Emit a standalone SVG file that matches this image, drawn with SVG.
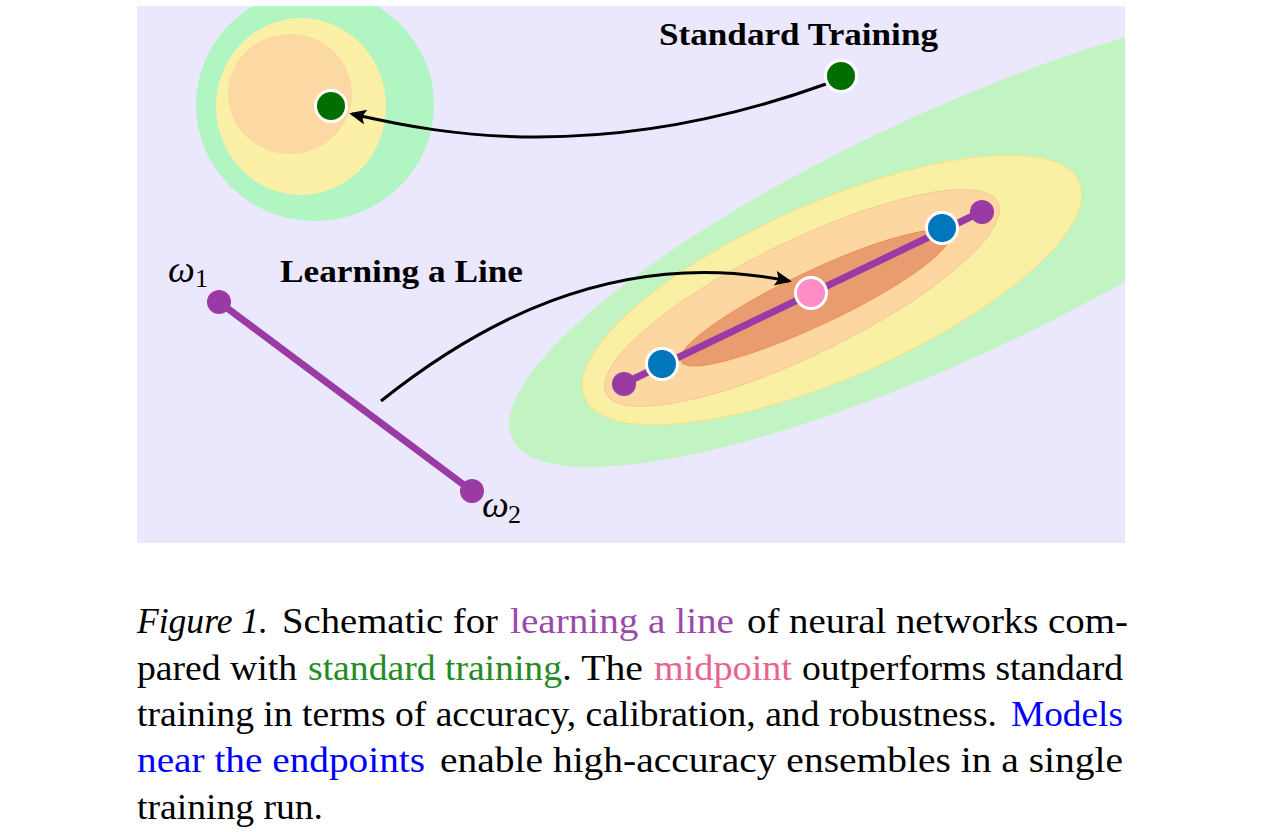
<svg xmlns="http://www.w3.org/2000/svg" width="1278" height="832" viewBox="0 0 1278 832">
  <style>
    .lbl { font-family: "Liberation Serif", "Times New Roman", serif; font-weight: bold; font-size: 31px; fill: #000; }
    .math { font-family: "Liberation Serif", "Times New Roman", serif; font-style: italic; font-size: 38px; fill: #000; }
    .sub { font-family: "Liberation Serif", "Times New Roman", serif; font-size: 26px; fill: #000; }
    .cap { font-family: "Liberation Serif", "Times New Roman", serif; font-size: 35px; fill: #000; }
    .it { font-style: italic; }
    .c-purple { fill: #9a4aa8; }
    .c-green { fill: #228b22; }
    .c-pink { fill: #e8648a; }
    .c-blue { fill: #0000ff; }
    .conn { fill: none; stroke: #000; stroke-width: 3; }
    .dot { stroke: #fff; stroke-width: 3; }
    .end { fill: #9a3aa5; }
  </style>
  <defs>
    <clipPath id="panel">
      <rect x="137" y="6" width="988" height="537"/>
    </clipPath>
    <marker id="arrow" markerUnits="userSpaceOnUse" markerWidth="20" markerHeight="18" refX="14" refY="7.5" orient="auto">
      <path d="M0,0 L17,7.5 L0,15 L3.5,7.5 Z" fill="#000"/>
    </marker>
  </defs>

  <rect width="1278" height="832" fill="#ffffff"/>

  <g id="landscape" clip-path="url(#panel)">
    <rect x="137" y="6" width="988" height="537" fill="#ebe8fe"/>
    <g id="basin-standard">
      <ellipse cx="315" cy="105" rx="119" ry="116" fill="#b1f5c3"/>
      <ellipse cx="301" cy="106.5" rx="85" ry="88.5" fill="#fbf0a5"/>
      <ellipse cx="290" cy="94" rx="62" ry="60" fill="#fcd8a3"/>
    </g>
    <g id="basin-line">
      <ellipse cx="947" cy="236" rx="480" ry="122" transform="rotate(-25 947 236)" fill="#c2f4c3"/>
      <ellipse cx="832" cy="290" rx="270" ry="88" transform="rotate(-23.6 832 290)" fill="#faf0a4" stroke="#f2e08a" stroke-width="1"/>
      <ellipse cx="802" cy="298" rx="218" ry="57" transform="rotate(-26 802 298)" fill="#fcd7a2" stroke="#f5cb92" stroke-width="1"/>
      <ellipse cx="815" cy="298" rx="148" ry="27" transform="rotate(-25.3 815 298)" fill="#e99c70" stroke="#ef9050" stroke-width="1"/>
    </g>
  </g>

  <g id="connectors">
    <path class="conn" d="M826 84 C740 115, 640 137, 537 137 C460 137, 400 125, 352 114" marker-end="url(#arrow)"/>
    <path class="conn" d="M381 401 C470 330, 610 245, 789 281" marker-end="url(#arrow)"/>
  </g>

  <g id="line-learned">
    <line x1="623" y1="384" x2="983" y2="211" stroke="#9a3aa5" stroke-width="7"/>
    <circle class="end" cx="624" cy="384" r="12"/>
    <circle class="end" cx="982" cy="212" r="12"/>
  </g>
  <g id="line-init">
    <line x1="219" y1="302" x2="472" y2="491" stroke="#9a3aa5" stroke-width="7"/>
    <circle class="end" cx="219" cy="302" r="12"/>
    <circle class="end" cx="472" cy="491" r="12"/>
  </g>

  <g id="node-standard-start"><circle class="dot" cx="841" cy="76" r="15.5" fill="#006f00"/></g>
  <g id="node-standard-end"><circle class="dot" cx="331" cy="106" r="15.5" fill="#006f00"/></g>
  <g id="node-blue-1"><circle class="dot" cx="662" cy="364" r="15.5" fill="#0077bb"/></g>
  <g id="node-blue-2"><circle class="dot" cx="942" cy="228" r="15.5" fill="#0077bb"/></g>
  <g id="node-midpoint"><circle class="dot" cx="811" cy="293" r="15.5" fill="#ff8ec8"/></g>

  <g id="labels">
    <text class="lbl" x="659" y="45" textLength="279" lengthAdjust="spacingAndGlyphs">Standard Training</text>
    <text class="lbl" x="280" y="282" textLength="243" lengthAdjust="spacingAndGlyphs">Learning a Line</text>
    <text class="math" x="168" y="282">ω</text>
    <text class="sub" x="195" y="287">1</text>
    <text class="math" x="482" y="517">ω</text>
    <text class="sub" x="508" y="523">2</text>
  </g>

  <g id="caption">
    <text class="cap it" x="137" y="633" textLength="131" lengthAdjust="spacingAndGlyphs">Figure 1.</text>
    <text class="cap" x="282" y="633" textLength="216" lengthAdjust="spacingAndGlyphs">Schematic for</text>
    <text class="cap c-purple" x="510" y="633" textLength="224" lengthAdjust="spacingAndGlyphs">learning a line</text>
    <text class="cap" x="747" y="633" textLength="381" lengthAdjust="spacingAndGlyphs">of neural networks com-</text>

    <text class="cap" x="137" y="679.5" textLength="160" lengthAdjust="spacingAndGlyphs">pared with</text>
    <text class="cap c-green" x="308" y="679.5" textLength="254" lengthAdjust="spacingAndGlyphs">standard training</text>
    <text class="cap" x="562" y="679.5" textLength="81" lengthAdjust="spacingAndGlyphs">. The</text>
    <text class="cap c-pink" x="654" y="679.5" textLength="138" lengthAdjust="spacingAndGlyphs">midpoint</text>
    <text class="cap" x="802" y="679.5" textLength="321" lengthAdjust="spacingAndGlyphs">outperforms standard</text>

    <text class="cap" x="137" y="726" textLength="860" lengthAdjust="spacingAndGlyphs">training in terms of accuracy, calibration, and robustness.</text>
    <text class="cap c-blue" x="1011" y="726" textLength="112" lengthAdjust="spacingAndGlyphs">Models</text>

    <text class="cap c-blue" x="137" y="772" textLength="288" lengthAdjust="spacingAndGlyphs">near the endpoints</text>
    <text class="cap" x="440" y="772" textLength="683" lengthAdjust="spacingAndGlyphs">enable high-accuracy ensembles in a single</text>

    <text class="cap" x="137" y="818.5" textLength="186" lengthAdjust="spacingAndGlyphs">training run.</text>
  </g>
</svg>
